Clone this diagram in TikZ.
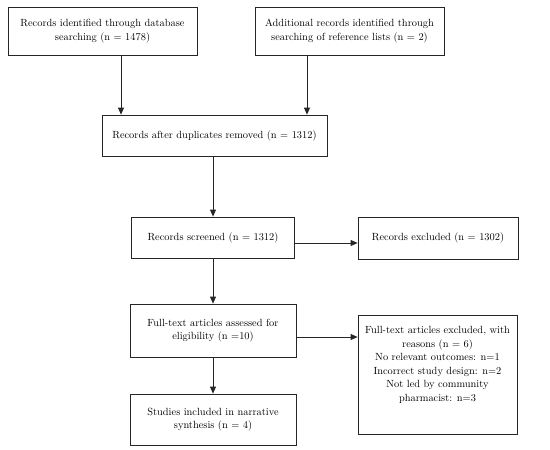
\documentclass[tikz,border=0pt]{standalone}
\usetikzlibrary{arrows.meta,positioning}
\tikzset{stagebox/.style={draw=black!85,line width=0.8pt,rectangle,align=center,inner sep=2pt,
        font=\fontsize{10.4}{13.5}\selectfont},
    flowarrow/.style={draw=black!85,line width=0.8pt,-{Triangle[length=7pt,width=6pt]}}
}

\begin{document}
\begin{tikzpicture}[x=1pt,y=-1pt]

\useasboundingbox (0,0) rectangle (550,450);

% identification
\node (dbsearch) at (102.5,31) [stagebox,minimum width=189pt,minimum height=48pt]
    {Records identified through database\\searching (n = 1478)};
\node (refsearch) at (349.5,31) [stagebox,minimum width=189pt,minimum height=48pt]
    {Additional records identified through\\searching of reference lists (n = 2)};

% screening
\node (dedup) at (214.5,135.5) [stagebox,minimum width=225pt,minimum height=41pt]
    {Records after duplicates removed (n = 1312)};
\node (screened) at (213,237.5) [stagebox,minimum width=163pt,minimum height=41pt]
    {Records screened (n = 1312)};
\node (recexcl) at (438,238) [stagebox,minimum width=160pt,minimum height=42pt]
    {Records excluded (n = 1302)};

% eligibility and inclusion
\node (fulltext) at (213,330.5) [stagebox,minimum width=166pt,minimum height=53pt]
    {Full-text articles assessed for\\eligibility (n =10)};
\node (included) at (213,419.5) [stagebox,minimum width=166pt,minimum height=51pt]
    {Studies included in narrative\\synthesis (n = 4)};
\node (fullexcl) at (437.5,374.5) [stagebox,minimum width=159pt,minimum height=119pt] {};
\node (fullexcltext) at (437.5,365) [stagebox,draw=none]
    {Full-text articles excluded, with\\reasons (n = 6)\\No relevant outcomes: n=1\\Incorrect study design: n=2\\Not led by community\\pharmacist: n=3};

\draw [flowarrow] ([xshift=18.5pt]dbsearch.south) -- ([xshift=18.5pt]dbsearch.south |- dedup.north);
\draw [flowarrow] ([xshift=-42.5pt]refsearch.south) -- ([xshift=-42.5pt]refsearch.south |- dedup.north);
\draw [flowarrow] (dedup.south -| screened.north) -- (screened.north);
\draw [flowarrow] ([yshift=-5.5pt]screened.east) -- ([yshift=-5.5pt]screened.east -| recexcl.west);
\draw [flowarrow] (screened.south) -- (fulltext.north);
\draw [flowarrow] ([yshift=-6.5pt]fulltext.east) -- ([yshift=-6.5pt]fulltext.east -| fullexcl.west);
\draw [flowarrow] (fulltext.south) -- (included.north);

\end{tikzpicture}
\end{document}
